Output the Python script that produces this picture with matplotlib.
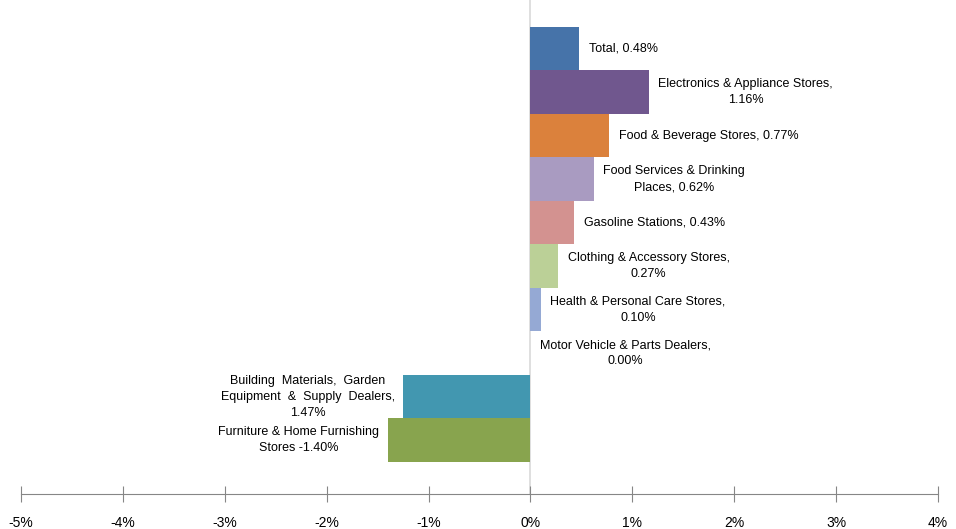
import matplotlib.pyplot as plt
from matplotlib.ticker import FuncFormatter

# categories, top to bottom
labels = [
    "Total, 0.48%",
    "Electronics & Appliance Stores,\n1.16%",
    "Food & Beverage Stores, 0.77%",
    "Food Services & Drinking\nPlaces, 0.62%",
    "Gasoline Stations, 0.43%",
    "Clothing & Accessory Stores,\n0.27%",
    "Health & Personal Care Stores,\n0.10%",
    "Motor Vehicle & Parts Dealers,\n0.00%",
    "Building  Materials,  Garden\nEquipment  &  Supply  Dealers,\n1.47%",
    "Furniture & Home Furnishing\nStores -1.40%",
]
values = [0.48, 1.16, 0.77, 0.62, 0.43, 0.27, 0.10, 0.00, -1.25, -1.40]
colors = ["#4673A9", "#70578E", "#DB813C", "#A99BC1", "#D39290",
          "#BBD097", "#95A9D4", "#FFFFFF", "#4297B0", "#88A44E"]
xticks = [-5, -4, -3, -2, -1, 0, 1, 2, 3, 4]

plt.rcParams['font.family'] = ['Liberation Sans', 'DejaVu Sans']

fig = plt.figure(figsize=(9.56, 5.29), dpi=100)
ax = fig.add_axes([21 / 956, 35 / 529, 917 / 956, 494 / 529])

n = len(values)
ypos = [n - 1 - i for i in range(n)]

ax.barh(ypos, values, height=1.0, color=colors, zorder=2)
ax.axvline(0, color="#D9D9D9", lw=1.2, zorder=1)

# data labels next to the end of each bar
for y, v, lab in zip(ypos, values, labels):
    if v >= 0:
        ax.annotate(lab, (v, y), xytext=(7, 0), textcoords="offset points",
                    ha="left", va="center", multialignment="center",
                    fontsize=9, linespacing=1.45)
    else:
        ax.annotate(lab, (v, y), xytext=(-6, 0), textcoords="offset points",
                    ha="right", va="center", multialignment="center",
                    fontsize=9, linespacing=1.45)

ax.set_xlim(-5, 4)
ax.set_ylim(-1.24, 10.12)
ax.set_xticks(xticks)
ax.xaxis.set_major_formatter(FuncFormatter(lambda x, p: f"{x:.0f}%"))
ax.set_yticks([])

for s in ["top", "right", "left"]:
    ax.spines[s].set_visible(False)
ax.spines["bottom"].set_color("#868686")
ax.tick_params(axis="x", direction="inout", length=12, color="#868686",
               labelsize=10, pad=10)

fig.savefig("out.png", dpi=100)
